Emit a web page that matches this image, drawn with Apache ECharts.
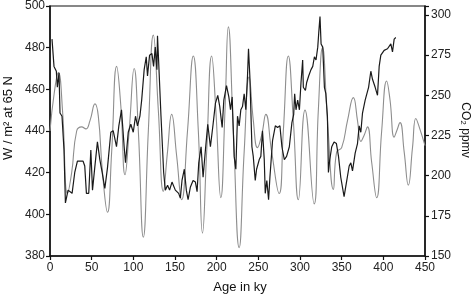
<!DOCTYPE html>
<html>
<head>
<meta charset="utf-8">
<script src="https://cdn.jsdelivr.net/npm/echarts@6/dist/echarts.min.js"></script>
<style>
  html, body { margin: 0; padding: 0; background: #fff; }
  #chart { width: 473px; height: 296px; }
</style>
</head>
<body>
<div id="chart"></div>
<script>
// insolation 65N (left axis)
var insAge = [0, 5, 10, 15, 21, 26, 32, 38, 43, 48, 54, 58, 63, 69, 74, 80, 85, 90, 95, 101, 106, 112, 118, 124, 130, 136, 141, 146, 152, 158, 165, 172, 178, 183, 188, 194, 199, 205, 210, 214, 220, 227, 233, 239, 244, 249, 254, 259, 266, 275, 280, 286, 292, 298, 306, 317, 322, 327, 333, 340, 344, 350, 357, 364, 369, 373, 377, 381, 386, 392, 398, 404, 408, 413, 416, 420, 425, 430, 435, 439, 443, 450];
var insVal = [440, 458, 468, 450, 410, 420, 440, 442, 441, 445, 453, 447, 420, 401, 430, 471, 452, 419, 440, 470, 440, 389, 440, 486, 450, 411, 430, 448, 428, 407, 440, 476, 440, 391, 430, 476, 450, 408, 450, 490, 440, 384, 430, 466, 445, 432, 438, 448, 430, 410, 440, 476, 445, 407, 450, 405, 450, 480, 445, 412, 430, 432, 445, 456, 445, 435, 438, 442, 425, 408, 440, 464, 455, 437, 440, 444, 430, 414, 432, 446, 442, 433];

// CO2 ppmv (right axis)
var co2Age = [2.4, 4.8, 7.6, 8.8, 10.8, 12, 14.4, 16.8, 18.5, 21.7, 23, 26.5, 29.7, 32.9, 39.7, 41.7, 43.7, 46.5, 49, 51, 53.7, 56.9, 59.8, 62.6, 65.8, 69, 73, 75.8, 79.8, 82.6, 85.8, 89, 90.6, 93.9, 97, 99.9, 102.6, 105, 107.9, 110, 113, 115.5, 117, 119.5, 122.3, 124.3, 126.3, 128.3, 129, 130.3, 133.2, 136.4, 138.4, 141.1, 143.5, 146.4, 150.4, 154.4, 156.4, 158.4, 161.2, 163.6, 165.7, 168.5, 171.7, 174.5, 176.5, 178.5, 181.3, 183.7, 186.5, 189.3, 192.5, 195.7, 198.5, 201.3, 203.7, 206.6, 208.6, 211.8, 214.6, 216.6, 218.6, 221, 223, 225, 227, 229, 231, 233, 235, 237, 238.2, 239.8, 242.3, 243.9, 246.3, 247.9, 251.1, 253, 255, 257.1, 258.3, 260.2, 262.3, 263.9, 267.1, 270.4, 273.1, 275.9, 278.3, 281.2, 283.9, 287.2, 290.3, 292.4, 293.6, 295.2, 297.2, 299.3, 301.2, 303.2, 304, 306.5, 308, 310.4, 313.2, 315.3, 317.3, 319.2, 321.3, 322.5, 324, 325.3, 327.3, 329.3, 331, 332.9, 334.1, 335.7, 338.1, 340.9, 343.7, 346.2, 348.9, 352.9, 355.8, 359, 361, 363, 366.2, 369, 371, 373, 375, 378.2, 379.8, 382.3, 385, 387, 390.2, 393, 395, 397, 401, 405, 409, 411, 413, 415];
var co2Val = [285, 268, 265, 255, 264, 239, 237, 216, 183, 191, 190, 189, 202, 209, 209, 206, 189, 189, 216, 191, 205, 221, 210, 202, 192, 205, 227, 228, 218, 231, 241, 218, 208, 227, 232, 227, 237, 231, 237, 247, 266, 274, 262, 275, 276, 268, 280, 266, 287, 272, 237, 202, 191, 194, 191, 196, 191, 189, 186, 197, 204, 191, 185, 193, 197, 196, 190, 208, 218, 199, 216, 232, 218, 232, 245, 250, 243, 230, 247, 256, 249, 241, 249, 212, 204, 237, 231, 241, 243, 251, 241, 262, 279, 262, 218, 212, 197, 204, 210, 212, 228, 210, 189, 197, 185, 199, 222, 231, 230, 231, 218, 210, 212, 218, 233, 238, 251, 241, 247, 241, 258, 272, 255, 253, 258, 262, 266, 268, 274, 272, 280, 289, 299, 282, 280, 255, 251, 237, 202, 210, 218, 221, 220, 212, 199, 187, 196, 206, 208, 203, 214, 220, 231, 227, 239, 247, 246, 255, 265, 260, 255, 250, 268, 275, 278, 279, 282, 277, 285, 286];

var xTicks = [0, 450, 50];
var leftTicks = [380, 500, 20];
var rightTicks = [150, 300, 25];

var insData = insAge.map(function (a, i) { return [a, insVal[i]]; });
var co2Data = co2Age.map(function (a, i) { return [a, co2Val[i]]; });

var chart = echarts.init(document.getElementById('chart'), null, { renderer: 'canvas' });
var font = 'Liberation Sans, Arial, sans-serif';
var axisLine = { show: true, lineStyle: { color: '#111', width: 1.5 } };

chart.setOption({
  animation: false,
  backgroundColor: '#fff',
  textStyle: { fontFamily: font },
  grid: { left: 50, right: 48, top: 6, bottom: 40, show: true, borderColor: '#111', borderWidth: 1.2 },
  xAxis: {
    type: 'value', min: xTicks[0], max: xTicks[1], interval: xTicks[2],
    axisLine: axisLine,
    axisTick: { show: true, length: 4, lineStyle: { color: '#111', width: 1.2 } },
    axisLabel: { color: '#222', fontSize: 12, margin: 6, fontFamily: font },
    splitLine: { show: false }
  },
  yAxis: [{
    type: 'value', position: 'left', min: leftTicks[0], max: leftTicks[1], interval: leftTicks[2],
    axisLine: axisLine,
    axisTick: { show: true, length: 4, lineStyle: { color: '#111', width: 1.2 } },
    axisLabel: { color: '#222', fontSize: 12, margin: 5, fontFamily: font },
    splitLine: { show: false }
  }, {
    type: 'value', position: 'right', min: rightTicks[0], max: 305.6, interval: rightTicks[2],
    axisLine: axisLine,
    axisTick: { show: true, length: 4, lineStyle: { color: '#111', width: 1.2 } },
    axisLabel: {
      color: '#222', fontSize: 12, margin: 6, fontFamily: font,
      formatter: function (v) { return (v % 25 === 0 && v <= rightTicks[1]) ? v : ''; }
    },
    splitLine: { show: false }
  }],
  graphic: [
    { type: 'text', x: 240, y: 287, style: { text: 'Age in ky', font: '13px ' + font, fill: '#111', textAlign: 'center', textVerticalAlign: 'middle' } },
    { type: 'text', x: 8, y: 118, rotation: Math.PI / 2, style: { text: 'W / m² at 65 N', font: '13px ' + font, fill: '#111', textAlign: 'center', textVerticalAlign: 'middle' } },
    { type: 'text', x: 465, y: 130, rotation: -Math.PI / 2, style: { text: 'CO₂ ppmv', font: '12px ' + font, fill: '#111', textAlign: 'center', textVerticalAlign: 'middle' } }
  ],
  series: [{
    name: 'insolation', type: 'line', yAxisIndex: 0, data: insData,
    smooth: 0.5, showSymbol: false,
    lineStyle: { color: '#8e8e8e', width: 1.1 }
  }, {
    name: 'CO2', type: 'line', yAxisIndex: 1, data: co2Data,
    showSymbol: false,
    lineStyle: { color: '#1a1a1a', width: 1.2 },
    z: 3
  }]
});
</script>
</body>
</html>
